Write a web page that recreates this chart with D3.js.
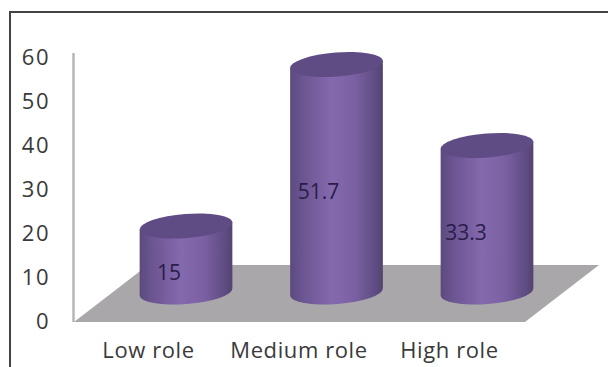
<!DOCTYPE html>
<html>
<head>
<meta charset="utf-8">
<script src="https://cdnjs.cloudflare.com/ajax/libs/d3/7.9.0/d3.min.js"></script>
<style>
html, body { margin: 0; padding: 0; background: #fff; }
svg { display: block; }
text { font-family: "Open Sans", sans-serif; }
</style>
</head>
<body>
<svg id="chart" width="608" height="367"></svg>
<script>
// Share of respondents by perceived role
const categories = ["Low role", "Medium role", "High role"];
const values = [15, 51.7, 33.3];
const tickValues = [0, 10, 20, 30, 40, 50, 60];

const svg = d3.select("#chart");

// Frame: only the top and left rules fall inside the page
svg.append("path")
  .attr("d", "M10,367 V12 H608")
  .attr("fill", "none").attr("stroke", "#444").attr("stroke-width", 2);

const y = d3.scaleLinear().domain([0, 60]).range([321, 57]);
const x = d3.scalePoint().domain(categories).range([186, 487]);

// The cylinders stand partway back on the floor, so their zero sits above the axis zero
const baseLift = y(0) - 292;
const rx = 46.5, ry = 12;
const tilt = -4.5;
const tiltDx = rx * Math.cos(tilt * Math.PI / 180);
const tiltDy = rx * Math.sin(tilt * Math.PI / 180);

// Wall axis
svg.append("line")
  .attr("x1", 73.5).attr("x2", 73.5)
  .attr("y1", y(60) - 4).attr("y2", y(0) + 1)
  .attr("stroke", "#b4b4b4").attr("stroke-width", 2.4);

// Floor parallelogram
const floor = { x0: 74, x1: 525, front: y(0) + 1, dx: 74, dy: 57 };
svg.append("polygon")
  .attr("points", [
    [floor.x0, floor.front], [floor.x1, floor.front],
    [floor.x1 + floor.dx, floor.front - floor.dy], [floor.x0 + floor.dx, floor.front - floor.dy]
  ].join(" "))
  .attr("fill", "#a9a7a9");

// Value axis labels
const yAxis = d3.axisLeft(y).tickValues(tickValues).tickSize(0).tickPadding(0);
const yGroup = svg.append("g").attr("transform", "translate(50,0)").call(yAxis);
yGroup.select(".domain").remove();
yGroup.selectAll("text")
  .attr("font-size", 22).attr("fill", "#3a3a3a").attr("letter-spacing", 1.5)
  .style("font-family", '"Open Sans", sans-serif');

// Category labels are set to the left of their cylinders
const xAxis = d3.axisBottom(x).tickSize(0).tickPadding(0);
const xGroup = svg.append("g").attr("transform", "translate(-38,342)").call(xAxis);
xGroup.select(".domain").remove();
xGroup.selectAll("text")
  .attr("font-size", 22).attr("fill", "#3a3a3a").attr("letter-spacing", 0.6)
  .style("font-family", '"Open Sans", sans-serif');

// Horizontal shading across the cylinder walls
const defs = svg.append("defs");
const grad = defs.append("linearGradient").attr("id", "wall");
[[0, "#5b4a7e"], [0.12, "#6a5490"], [0.45, "#8569ae"], [0.7, "#7a60a2"], [0.92, "#5f4c83"], [1, "#54436f"]]
  .forEach(([o, c]) => grad.append("stop").attr("offset", o).attr("stop-color", c));

const cyl = svg.selectAll("g.cylinder").data(categories.map((c, i) => ({ c, v: values[i] })))
  .join("g").attr("class", "cylinder")
  .attr("transform", d => `translate(${x(d.c)},0)`);

cyl.append("path")
  .attr("fill", "url(#wall)")
  .attr("d", d => {
    const top = y(d.v) - baseLift, bottom = y(0) - baseLift;
    return `M${-tiltDx},${top - tiltDy} L${-tiltDx},${bottom - tiltDy}` +
      ` A${rx},${ry} ${tilt} 0 0 ${tiltDx},${bottom + tiltDy} L${tiltDx},${top + tiltDy} Z`;
  });

cyl.append("ellipse")
  .attr("rx", rx).attr("ry", ry)
  .attr("transform", d => `translate(0,${y(d.v) - baseLift}) rotate(${tilt})`)
  .attr("fill", "#5f4c84");

// Value labels sit left of centre on the cylinder walls
const labelShift = [-17, -18, -21];
cyl.append("text")
  .attr("text-anchor", "middle")
  .attr("y", d => (y(d.v) + y(0)) / 2 - baseLift + 21)
  .attr("x", (d, i) => labelShift[i])
  .attr("font-size", 21).attr("fill", "#2a1d4a")
  .text(d => d.v);
</script>
</body>
</html>
